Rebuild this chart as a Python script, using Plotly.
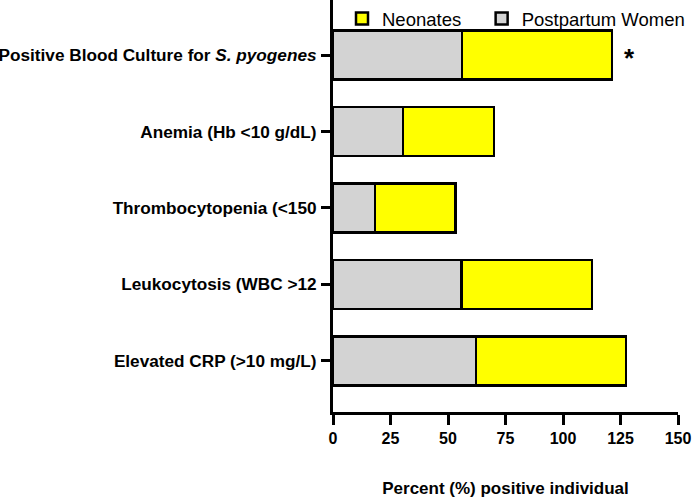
import plotly.graph_objects as go

categories = [
    "Positive Blood Culture for <i>S. pyogenes</i>",
    "Anemia (Hb <10 g/dL)",
    "Thrombocytopenia (<150",
    "Leukocytosis (WBC >12",
    "Elevated CRP (>10 mg/L)",
]
postpartum = [56.0, 30.5, 18.3, 55.8, 62.2]
neonates = [65.4, 39.5, 35.0, 56.7, 65.2]
x_ticks = [0, 25, 50, 75, 100, 125, 150]
x_title = "Percent (%) positive individual"
annot_text = "*"

FONT = "Liberation Sans, Arial, sans-serif"
NBSP = "\u00a0"

fig = go.Figure()
fig.add_trace(go.Bar(
    y=categories, x=postpartum, orientation="h", name="Postpartum Women",
    marker=dict(color="#d3d3d3", line=dict(color="black", width=2.5)),
    width=0.64,
))
fig.add_trace(go.Bar(
    y=categories, x=neonates, orientation="h", name="Neonates" + NBSP * 3,
    marker=dict(color="#ffff00", line=dict(color="black", width=2.5)),
    width=0.64,
))

totals = [p + n for p, n in zip(postpartum, neonates)]
fig.add_annotation(x=totals[0] + 7.6, y=categories[0], text="<b>" + annot_text + "</b>",
                   showarrow=False, font=dict(size=26, color="black", family=FONT),
                   yshift=-3)

fig.update_layout(
    width=699, height=501,
    margin=dict(l=333, r=21, t=0, b=89, autoexpand=False),
    barmode="stack",
    plot_bgcolor="white", paper_bgcolor="white",
    font=dict(family=FONT, color="black"),
    legend=dict(orientation="h", xref="container", yref="container",
                x=342 / 699, y=1.0, xanchor="left", yanchor="top",
                traceorder="reversed", font=dict(size=18.5, family=FONT),
                bgcolor="rgba(0,0,0,0)"),
    showlegend=True,
)
fig.update_xaxes(
    range=[0, 150], tickvals=x_ticks, ticktext=[str(v) for v in x_ticks],
    showline=True, linecolor="black", linewidth=3,
    ticks="outside", ticklen=10, tickwidth=3, tickcolor="black",
    showgrid=False, zeroline=False, automargin=False,
    tickfont=dict(size=16, family=FONT, weight="bold"),
    title=dict(text="<b>" + x_title + "</b>", font=dict(size=17, family=FONT), standoff=36),
)
fig.update_yaxes(
    range=[4.67, -0.72], type="category",
    showline=True, linecolor="black", linewidth=3,
    ticks="outside", ticklen=9, tickwidth=3, tickcolor="black",
    showgrid=False, zeroline=False, automargin=False,
    tickfont=dict(size=17.2, family=FONT, weight="bold"),
    ticklabelstandoff=1,
)

fig.write_html("out.html",
               config={"displayModeBar": False},
               post_script="document.body.style.margin='0';document.body.style.padding='0';")
